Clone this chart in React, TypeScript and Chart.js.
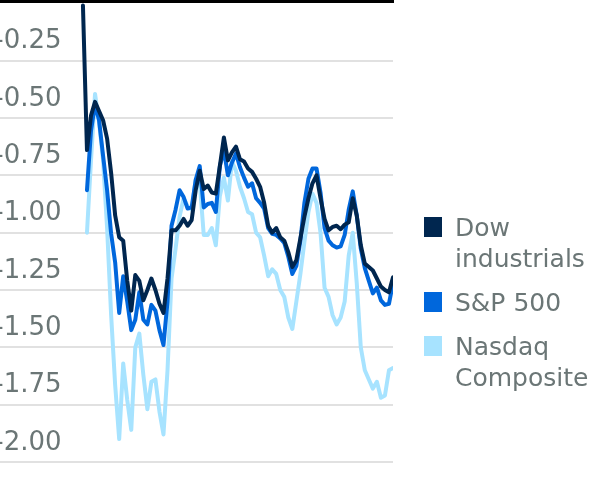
import { useEffect, useRef } from "react";
import { Chart, registerables } from "chart.js";

Chart.register(...registerables);

const SERIES_NAMES = ["Dow industrials", "S&P 500", "Nasdaq Composite"];
const LEGEND_LINES = [["Dow", "industrials"], ["S&P 500"], ["Nasdaq", "Composite"]];
const COLORS = ["#00264f", "#0067dc", "#a7e3ff"];

const DOW = [
  -0.01, -0.64, -0.49, -0.43, -0.47, -0.51, -0.59, -0.74, -0.925, -1.02,
  -1.035, -1.21, -1.34, -1.185, -1.21, -1.295, -1.25, -1.2, -1.25, -1.31,
  -1.35, -1.2, -0.99, -0.99, -0.97, -0.94, -0.97, -0.945, -0.815, -0.73,
  -0.81, -0.795, -0.825, -0.83, -0.71, -0.585, -0.685, -0.65, -0.625, -0.68,
  -0.69, -0.72, -0.735, -0.765, -0.8, -0.87, -0.97, -1.0, -0.98, -1.02,
  -1.035, -1.085, -1.15, -1.12, -1.025, -0.93, -0.85, -0.785, -0.75, -0.85,
  -0.94, -0.99, -0.975, -0.97, -0.985, -0.965, -0.955, -0.85, -0.925, -1.055,
  -1.135, -1.15, -1.165, -1.2, -1.235, -1.25, -1.26, -1.195,
];

const SP500 = [
  null, -0.815, -0.555, -0.44, -0.51, -0.665, -0.815, -1.005, -1.13, -1.35,
  -1.19, -1.3, -1.425, -1.38, -1.26, -1.38, -1.4, -1.315, -1.34, -1.425,
  -1.49, -1.3, -0.97, -0.9, -0.815, -0.845, -0.895, -0.89, -0.77, -0.71,
  -0.89, -0.875, -0.87, -0.91, -0.71, -0.64, -0.75, -0.695, -0.655, -0.715,
  -0.76, -0.8, -0.785, -0.85, -0.87, -0.895, -0.98, -1.005, -1.01, -1.025,
  -1.045, -1.105, -1.18, -1.145, -1.035, -0.87, -0.765, -0.72, -0.72, -0.825,
  -0.98, -1.035, -1.055, -1.065, -1.06, -1.01, -0.9, -0.82, -0.925, -1.07,
  -1.155, -1.21, -1.265, -1.24, -1.295, -1.315, -1.31, -1.22,
];

const NASDAQ = [
  null, -1.0, -0.685, -0.395, -0.52, -0.685, -0.98, -1.36, -1.665, -1.9,
  -1.57, -1.73, -1.86, -1.5, -1.44, -1.62, -1.77, -1.65, -1.64, -1.78,
  -1.88, -1.6, -1.2, -1.07, -0.93, -0.85, -0.885, -0.9, -0.77, -0.78,
  -1.01, -1.01, -0.98, -1.055, -0.84, -0.76, -0.86, -0.69, -0.73, -0.8,
  -0.85, -0.91, -0.92, -1.0, -1.02, -1.1, -1.19, -1.16, -1.18, -1.25,
  -1.28, -1.37, -1.42, -1.3, -1.18, -1.04, -0.91, -0.83, -0.87, -1.0,
  -1.24, -1.28, -1.36, -1.4, -1.37, -1.3, -1.1, -1.0, -1.22, -1.5,
  -1.6, -1.64, -1.68, -1.65, -1.72, -1.71, -1.6, -1.59,
];

const Y_TICKS = [-0.25, -0.5, -0.75, -1.0, -1.25, -1.5, -1.75, -2.0];
const Y_MIN = -2.0;
const Y_MAX = 0.01;
const X_MIN = -20.6;

const SERIES = [DOW, SP500, NASDAQ];
const TEXT_COLOR = "#6b7676";
const FONT = "'DejaVu Sans', sans-serif";

// canvas is shifted up so the plot's top edge sits at the page top
const PAD_TOP = 20;
const CANVAS_TOP = 1.3 - PAD_TOP;
const CANVAS_H = 500;
const PAD_BOTTOM = CANVAS_H - (462.3 - CANVAS_TOP);

export default function App() {
  const ref = useRef<HTMLCanvasElement>(null);

  useEffect(() => {
    const canvas = ref.current;
    if (!canvas) return;
    const chart = new Chart(canvas, {
      type: "line",
      data: {
        datasets: SERIES.map((arr, k) => ({
          label: SERIES_NAMES[k],
          data: arr.map((v, i) => ({ x: i, y: v })),
          borderColor: COLORS[k],
          backgroundColor: COLORS[k],
          borderWidth: 4,
          pointRadius: 0,
          tension: 0,
          spanGaps: false,
          borderJoinStyle: "round" as const,
          borderCapStyle: "round" as const,
        })),
      },
      options: {
        animation: false,
        responsive: false,
        layout: { padding: { left: 0, right: 207, top: PAD_TOP, bottom: PAD_BOTTOM } },
        plugins: { legend: { display: false }, tooltip: { enabled: false } },
        scales: {
          x: {
            type: "linear",
            position: "top",
            min: X_MIN,
            max: DOW.length - 1,
            grid: { display: false, drawTicks: false },
            ticks: { display: false },
            border: { display: true, color: "#000000", width: 3 },
          },
          y: {
            type: "linear",
            min: Y_MIN,
            max: Y_MAX,
            afterBuildTicks: (axis: any) => {
              axis.ticks = Y_TICKS.map((value) => ({ value }));
            },
            grid: { color: "#e1e1e1", lineWidth: 2, drawTicks: false },
            border: { display: false },
            ticks: {
              mirror: true,
              padding: -1.9,
              labelOffset: -19,
              color: TEXT_COLOR,
              font: { family: FONT, size: 26 },
              callback: (v: any) => Number(v).toFixed(2),
            },
          },
        },
      },
    });
    return () => chart.destroy();
  }, []);

  return (
    <div style={{ position: "absolute", left: 0, top: 0, width: 600, height: 480, background: "#fff", overflow: "hidden" }}>
      <canvas
        ref={ref}
        width={600}
        height={CANVAS_H}
        style={{ position: "absolute", left: 0, top: CANVAS_TOP }}
      />
      <div style={{ position: "absolute", left: 424, top: 211.5, fontFamily: FONT, fontSize: 25, lineHeight: "31px", color: TEXT_COLOR }}>
        {LEGEND_LINES.map((lines, k) => (
          <div key={k} style={{ display: "flex", alignItems: "flex-start", marginBottom: 13 }}>
            <div style={{ width: 18, height: 20, marginTop: 5, background: COLORS[k], flex: "none" }} />
            <div style={{ marginLeft: 13, whiteSpace: "nowrap" }}>
              {lines.map((t, j) => (
                <div key={j}>{t}</div>
              ))}
            </div>
          </div>
        ))}
      </div>
    </div>
  );
}
